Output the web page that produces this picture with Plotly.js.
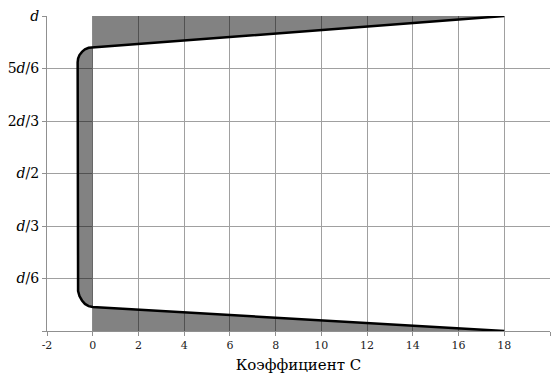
<!DOCTYPE html>
<html><head><meta charset="utf-8">
<script src="https://cdn.plot.ly/plotly-3.0.1.min.js"></script>
<style>html,body{margin:0;padding:0;background:#fff}</style>
</head><body><div id="chart" style="width:556px;height:382px"></div>
<script>
// Curve outline (Coefficient C vs height, in units of d)
const curveX = [18, 0, -0.18, -0.34, -0.47, -0.58, -0.64, -0.66, -0.66, -0.64, -0.58, -0.47, -0.34, -0.18, 0, 18];
const curveY = [1.0, 0.900, 0.899, 0.894, 0.886, 0.876, 0.865, 0.853, 0.146, 0.127, 0.111, 0.097, 0.086, 0.079, 0.076, 0.0];
const yTickVals = [0, 1/6, 2/6, 3/6, 4/6, 5/6, 1];
const yTickText = ['', '<i>d</i>/6', '<i>d</i>/3', '<i>d</i>/2', '2<i>d</i>/3', '5<i>d</i>/6', '<i>d</i>'];
const xTickVals = [-2, 0, 2, 4, 6, 8, 10, 12, 14, 16, 18, 20];
const xTickText = ['-2', '0', '2', '4', '6', '8', '10', '12', '14', '16', '18', '20'];

const fillColor = 'rgba(0,0,0,0.49)';
const yMin = 0, yMax = 1;
const n = curveX.length;
const topFillX = [curveX[0], curveX[1], curveX[1]];
const topFillY = [curveY[0], curveY[1], yMax];
const leftFillX = curveX.slice(1, n - 1);
const leftFillY = curveY.slice(1, n - 1);
const botFillX = [curveX[n-2], curveX[n-1], curveX[n-2]];
const botFillY = [curveY[n-2], curveY[n-1], yMin];

const traces = [
  {x: topFillX, y: topFillY, fill: 'toself', fillcolor: fillColor, mode: 'none', hoverinfo: 'skip'},
  {x: leftFillX, y: leftFillY, fill: 'toself', fillcolor: fillColor, mode: 'none', hoverinfo: 'skip'},
  {x: botFillX, y: botFillY, fill: 'toself', fillcolor: fillColor, mode: 'none', hoverinfo: 'skip'},
  {x: curveX, y: curveY, mode: 'lines', line: {color: '#000', width: 2.5}, hoverinfo: 'skip'}
];

const serif = 'DejaVu Serif';
const layout = {
  width: 556, height: 382,
  margin: {l: 47, r: 6, t: 16, b: 51},
  paper_bgcolor: '#fff', plot_bgcolor: '#fff',
  showlegend: false,
  font: {family: serif, color: '#000'},
  xaxis: {
    range: [-2, 20], tickmode: 'array', tickvals: xTickVals, ticktext: xTickText,
    showgrid: true, gridcolor: '#a0a0a0', gridwidth: 1,
    zeroline: false, showline: true, linecolor: '#909090', linewidth: 1,
    ticks: 'outside', ticklen: 4, tickcolor: '#909090',
    tickfont: {family: serif, size: 11, color: '#222'},
    title: {text: 'Коэффициент С', font: {family: serif, size: 15, color: '#000'}, standoff: 8}
  },
  yaxis: {
    range: [0, 1], tickmode: 'array', tickvals: yTickVals, ticktext: yTickText,
    showgrid: true, gridcolor: '#a0a0a0', gridwidth: 1,
    zeroline: false, showline: true, linecolor: '#909090', linewidth: 1,
    ticks: 'outside', ticklen: 4, tickcolor: '#909090',
    tickfont: {family: serif, size: 14, color: '#000'}
  }
};
Plotly.newPlot('chart', traces, layout, {staticPlot: true, displayModeBar: false});
</script></body></html>
